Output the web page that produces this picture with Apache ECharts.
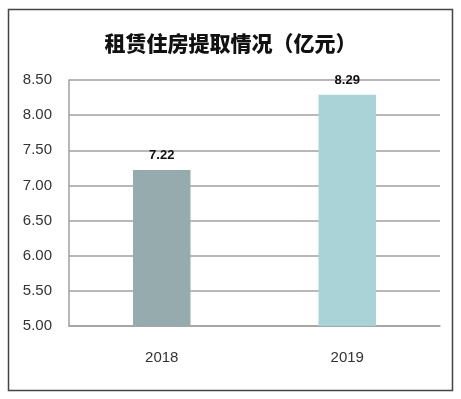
<!DOCTYPE html>
<html>
<head>
<meta charset="utf-8">
<script src="https://cdn.jsdelivr.net/npm/echarts@6/dist/echarts.min.js"></script>
<style>
  html, body { margin: 0; padding: 0; background: #fff; }
  #main { width: 461px; height: 399px; }
</style>
</head>
<body>
<div id="main"></div>
<script>
// 租赁住房提取情况（亿元）
const years = ["2018", "2019"];
const amounts = [7.22, 8.29];
const barColors = ["#95abad", "#a9d3d7"];

const chart = echarts.init(document.getElementById("main"));

chart.setOption({
  backgroundColor: "#fff",
  animation: false,
  title: {
    text: "租赁住房提取情况（亿元）",
    left: "center",
    top: 28,
    textStyle: {
      fontFamily: "Noto Sans CJK SC",
      fontWeight: 900,
      fontSize: 21,
      color: "#111"
    }
  },
  graphic: [
    {
      type: "rect",
      shape: { x: 8.5, y: 9.5, width: 444, height: 381 },
      style: { fill: "none", stroke: "#444", lineWidth: 1.5 },
      silent: true
    }
  ],
  grid: { left: 69, right: 21, top: 80, bottom: 73 },
  xAxis: {
    type: "category",
    data: years,
    axisTick: { show: false },
    axisLine: { lineStyle: { color: "#a0a0a0", width: 1.5 } },
    axisLabel: {
      color: "#333",
      fontSize: 15,
      fontFamily: "Liberation Sans",
      margin: 24
    }
  },
  yAxis: {
    type: "value",
    min: 5,
    max: 8.5,
    interval: 0.5,
    axisLine: { show: true, lineStyle: { color: "#a0a0a0", width: 1.5 } },
    axisTick: { show: false },
    splitLine: { lineStyle: { color: "#a0a0a0", width: 1.5 } },
    axisLabel: {
      color: "#333",
      fontSize: 15,
      fontFamily: "Liberation Sans",
      margin: 17,
      formatter: v => v.toFixed(2)
    }
  },
  series: [
    {
      type: "bar",
      barWidth: "31%",
      data: amounts.map((v, i) => ({ value: v, itemStyle: { color: barColors[i] } })),
      label: {
        show: true,
        position: "top",
        distance: 8,
        color: "#111",
        fontWeight: "bold",
        fontSize: 13,
        fontFamily: "Liberation Sans",
        formatter: p => p.value.toFixed(2)
      }
    }
  ]
});
</script>
</body>
</html>
